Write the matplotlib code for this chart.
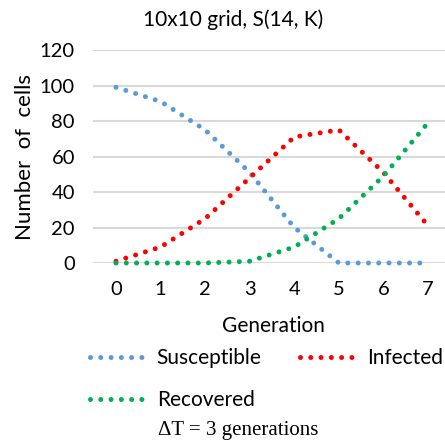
import numpy as np
import matplotlib
matplotlib.use("Agg")
from matplotlib import pyplot as plt

generation = [0, 1, 2, 3, 4, 5, 6, 7]
susceptible = [99, 91, 75, 51, 20, 0, 0, 0]
infected = [1, 9, 25, 48, 71, 75, 51, 21]
recovered = [0, 0, 0, 1, 9, 25, 49, 79]

names = ["Susceptible", "Infected", "Recovered"]
colors = ["#5B9BD5", "#FF0000", "#00B050"]

W, H = 445, 443
plt.rcParams['font.family'] = ['Lato', 'DejaVu Sans']
plt.rcParams['lines.scale_dashes'] = False

fig = plt.figure(figsize=(W / 100, H / 100), dpi=100)
# axes box in pixel coords: left 93, right 445, top 50, bottom 263
ax = fig.add_axes([93 / W, 1 - 263 / H, (445 - 93) / W, (263 - 50) / H])

lw = 3.6
dots = (0.001, 7.4)   # points: round-capped zero dashes -> dots
handles = []
for vals, name, c in zip([susceptible, infected, recovered], names, colors):
    ln, = ax.plot(generation, vals, color=c, linewidth=lw, linestyle=(0, dots),
                  dash_capstyle='round', clip_on=False, label=name, zorder=3)
    handles.append(ln)

ax.set_xlim(-0.516, 7.381)
ax.set_ylim(0, 120)
ax.set_yticks(range(0, 121, 20))
ax.set_xticks(generation)
ax.grid(axis='y', color='#D9D9D9', linewidth=1.5, zorder=0)
for s in ax.spines.values():
    s.set_visible(False)
ax.tick_params(axis='both', length=0, labelsize=14.5, colors='#000000')
ax.tick_params(axis='y', pad=13)
ax.tick_params(axis='x', pad=13)

def px(x, y):
    return x / W, 1 - y / H

fig.text(*px(233, 20), "10x10 grid, S(14, K)", ha='center', va='center', fontsize=15)
fig.text(*px(25, 157), "Number  of  cells", ha='center', va='center', rotation=90, fontsize=16)
fig.text(*px(273, 326), "Generation", ha='center', va='center', fontsize=15)

order = [handles[0], handles[2], handles[1]]
fig.legend(order, [h.get_label() for h in order], ncol=2, frameon=False,
           loc='upper left', bbox_to_anchor=px(90, 348), fontsize=15,
           handlelength=2.7, handletextpad=0.5, columnspacing=1.85,
           labelspacing=1.06, borderpad=0, borderaxespad=0)

fig.text(*px(158, 431), "\u0394T = 3 generations", ha='left', va='center',
         fontsize=15, family=['Liberation Serif', 'DejaVu Serif'])

fig.savefig("out.png", dpi=100)
